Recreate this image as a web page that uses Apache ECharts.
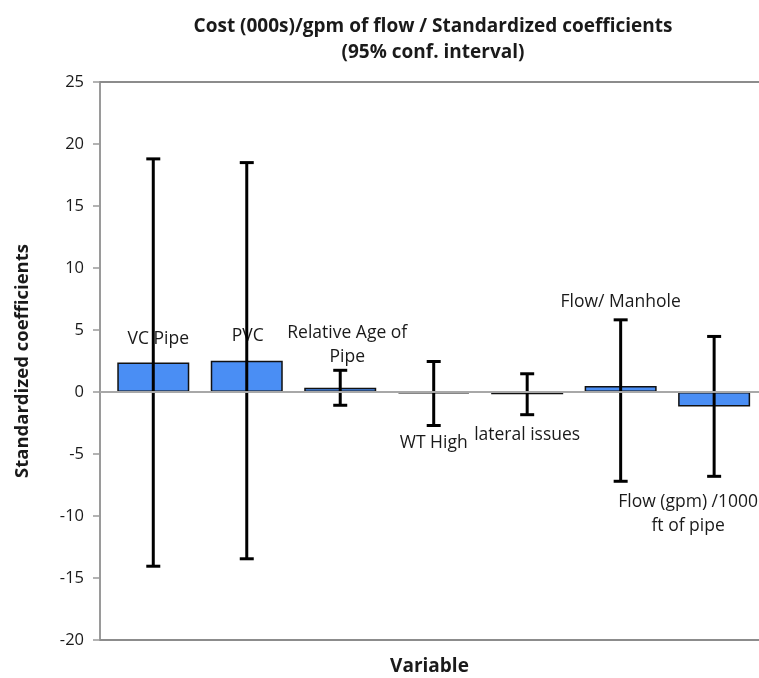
<!DOCTYPE html>
<html>
<head>
<meta charset="utf-8">
<script src="https://cdn.jsdelivr.net/npm/echarts@6/dist/echarts.min.js"></script>
<style>
  html, body { margin: 0; padding: 0; background: #fff; }
  #chart { width: 759px; height: 678px; }
</style>
</head>
<body>
<div id="chart"></div>
<script>
// Regression variables and their standardized coefficients with 95% CI bounds
const categories = ['VC Pipe', 'PVC', 'Relative Age of\nPipe', 'WT High', 'lateral issues', 'Flow/ Manhole', 'Flow (gpm) /1000\nft of pipe'];
const coefficients = [2.38, 2.52, 0.35, -0.12, -0.18, 0.48, -1.16];
const ciLower = [-14.05, -13.45, -1.07, -2.70, -1.83, -7.20, -6.80];
const ciUpper = [18.80, 18.50, 1.75, 2.46, 1.47, 5.82, 4.48];
const yTicks = { min: -20, max: 25, interval: 5 };

// Label placement relative to each bar's centre (pixels)
const labelOffsets = [[5, -38], [1, -40], [7, -45], [0, 50], [0, 42], [0, -87], [-26, 115]];

const FONT = 'Open Sans';
const chart = echarts.init(document.getElementById('chart'));

const barData = coefficients.map((v, i) => ({
  value: [i, v],
  label: { offset: labelOffsets[i] }
}));

const errorData = coefficients.map((v, i) => [i, ciLower[i], ciUpper[i]]);

chart.setOption({
  animation: false,
  textStyle: { fontFamily: FONT },
  title: {
    text: 'Cost (000s)/gpm of flow / Standardized coefficients\n(95% conf. interval)',
    left: 428,
    top: 9,
    textAlign: 'center',
    textStyle: { fontFamily: FONT, fontWeight: 'bold', fontSize: 19, color: '#1a1a1a', lineHeight: 26 }
  },
  grid: { left: 100, right: 0, top: 82, bottom: 38, containLabel: false, outerBoundsMode: 'none' },
  xAxis: [
    {
      type: 'value', min: -0.57, max: 6.48, position: 'bottom',
      axisLine: { show: true, onZero: false, lineStyle: { color: '#8c8c8c', width: 2 } },
      axisTick: { show: false }, axisLabel: { show: false }, splitLine: { show: false },
      name: 'Variable', nameLocation: 'middle', nameGap: 17,
      nameTextStyle: { fontFamily: FONT, fontWeight: 'bold', fontSize: 19, color: '#1a1a1a' }
    },
    {
      type: 'value', min: -0.57, max: 6.48, position: 'top',
      axisLine: { show: true, onZero: false, lineStyle: { color: '#8c8c8c', width: 2 } },
      axisTick: { show: false }, axisLabel: { show: false }, splitLine: { show: false }
    }
  ],
  yAxis: {
    type: 'value', min: yTicks.min, max: yTicks.max, interval: yTicks.interval,
    axisLine: { show: true, onZero: false, lineStyle: { color: '#9a9a9a', width: 2 } },
    axisTick: { show: true, length: 7, lineStyle: { color: '#9a9a9a', width: 1.5 } },
    axisLabel: { fontFamily: FONT, fontSize: 16.5, color: '#1a1a1a', margin: 16 },
    splitLine: { show: false },
    name: 'Standardized coefficients', nameLocation: 'middle', nameGap: 68,
    nameTextStyle: { fontFamily: FONT, fontWeight: 'bold', fontSize: 18.5, color: '#1a1a1a' }
  },
  series: [
    {
      // zero reference line, kept beneath the bars
      type: 'line', data: [], z: 1, silent: true,
      markLine: {
        silent: true, symbol: 'none', label: { show: false },
        lineStyle: { color: '#a8a8a8', width: 2, type: 'solid' },
        data: [{ yAxis: 0 }]
      }
    },
    {
      type: 'bar', z: 2,
      barWidth: 72,
      data: barData,
      itemStyle: { color: '#4a8ef4', borderColor: '#111', borderWidth: 1.5 },
      label: {
        show: true, position: 'inside',
        formatter: p => categories[p.dataIndex],
        fontFamily: FONT, fontSize: 17.5, color: '#1a1a1a', lineHeight: 24, align: 'center'
      }
    },
    {
      type: 'custom', z: 3,
      data: errorData,
      renderItem: function (params, api) {
        const x = api.value(0);
        const lo = api.coord([x, api.value(1)]);
        const hi = api.coord([x, api.value(2)]);
        const cap = 7;
        const style = { stroke: '#000', lineWidth: 3 };
        return {
          type: 'group',
          children: [
            { type: 'line', shape: { x1: hi[0], y1: hi[1], x2: lo[0], y2: lo[1] }, style },
            { type: 'line', shape: { x1: hi[0] - cap, y1: hi[1], x2: hi[0] + cap, y2: hi[1] }, style },
            { type: 'line', shape: { x1: lo[0] - cap, y1: lo[1], x2: lo[0] + cap, y2: lo[1] }, style }
          ]
        };
      }
    }
  ]
});
</script>
</body>
</html>
